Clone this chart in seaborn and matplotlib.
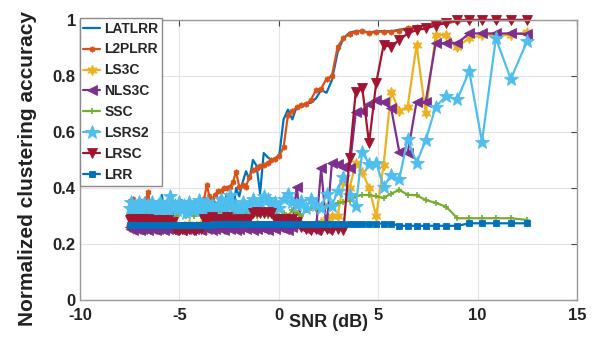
import matplotlib
matplotlib.use("Agg")
import matplotlib.pyplot as plt
import seaborn as sns

# SNR values (dB)
snr = [-7.50, -7.41, -7.32, -7.24, -7.15, -7.05, -6.96, -6.87, -6.78, -6.68,
       -6.58, -6.49, -6.39, -6.29, -6.19, -6.09, -5.99, -5.88, -5.78, -5.67,
       -5.56, -5.45, -5.34, -5.23, -5.12, -5.00, -4.88, -4.77, -4.65, -4.53,
       -4.40, -4.28, -4.15, -4.02, -3.89, -3.76, -3.62, -3.49, -3.35, -3.21,
       -3.06, -2.92, -2.77, -2.62, -2.46, -2.31, -2.15, -1.99, -1.82, -1.65,
       -1.48, -1.30, -1.12, -0.94, -0.76, -0.56, -0.37, -0.17, 0.03, 0.24,
       0.46, 0.68, 0.90, 1.14, 1.37, 1.62, 1.87, 2.13, 2.40, 2.67,
       2.96, 3.25, 3.56, 3.87, 4.20, 4.54, 4.90, 5.27, 5.65, 6.06,
       6.48, 6.93, 7.39, 7.89, 8.42, 8.98, 9.58, 10.22, 10.92, 11.67,
       12.50]

latlrr = [0.31, 0.33, 0.30, 0.32, 0.31, 0.33, 0.30, 0.32, 0.31, 0.30,
          0.32, 0.31, 0.33, 0.30, 0.32, 0.33, 0.32, 0.375, 0.32, 0.30,
          0.33, 0.31, 0.32, 0.30, 0.31, 0.33, 0.357, 0.31, 0.32, 0.30,
          0.31, 0.33, 0.32, 0.34, 0.31, 0.33, 0.32, 0.34, 0.31, 0.35,
          0.34, 0.37, 0.33, 0.38, 0.36, 0.31, 0.40, 0.37, 0.42, 0.46,
          0.43, 0.50, 0.48, 0.38, 0.525, 0.51, 0.50, 0.505, 0.52, 0.645,
          0.68, 0.645, 0.69, 0.69, 0.70, 0.705, 0.72, 0.75, 0.74, 0.785,
          0.885, 0.935, 0.955, 0.96, 0.96, 0.955, 0.96, 0.96, 0.96, 0.965,
          0.97, 0.975, 0.98, 0.985, 0.99, 0.995, 1.0, 1.0, 1.0, 1.0,
          1.0]

l2plrr = [0.355, 0.34, 0.36, 0.345, 0.35, 0.335, 0.355, 0.345, 0.34, 0.36,
          0.385, 0.35, 0.335, 0.345, 0.33, 0.35, 0.34, 0.33, 0.345, 0.335,
          0.34, 0.33, 0.345, 0.335, 0.34, 0.33, 0.345, 0.335, 0.34, 0.35,
          0.335, 0.345, 0.33, 0.34, 0.35, 0.36, 0.41, 0.37, 0.36, 0.375,
          0.39, 0.39, 0.40, 0.40, 0.405, 0.42, 0.458, 0.405, 0.41, 0.405,
          0.44, 0.464, 0.47, 0.48, 0.482, 0.49, 0.50, 0.505, 0.515, 0.545,
          0.66, 0.675, 0.688, 0.695, 0.70, 0.715, 0.75, 0.755, 0.79, 0.80,
          0.905, 0.935, 0.95, 0.958, 0.962, 0.952, 0.958, 0.958, 0.958, 0.962,
          0.97, 0.975, 0.98, 0.985, 0.99, 0.995, 1.0, 1.0, 1.0, 1.0,
          1.0]

ls3c = [0.26, 0.27, 0.255, 0.265, 0.26, 0.27, 0.255, 0.26, 0.265, 0.26,
        0.27, 0.255, 0.26, 0.265, 0.26, 0.255, 0.27, 0.26, 0.265, 0.26,
        0.255, 0.26, 0.27, 0.26, 0.265, 0.26, 0.255, 0.265, 0.26, 0.27,
        0.26, 0.255, 0.265, 0.26, 0.27, 0.26, 0.255, 0.265, 0.26, 0.26,
        0.265, 0.26, 0.255, 0.27, 0.26, 0.265, 0.26, 0.27, 0.255, 0.26,
        0.265, 0.26, 0.27, 0.26, 0.265, 0.255, 0.26, 0.27, 0.265, 0.26,
        0.27, 0.26, 0.265, 0.27, 0.26, 0.265, 0.27, 0.28, 0.29, 0.30,
        0.30, 0.42, 0.40, 0.488, 0.458, 0.40, 0.30, 0.482, 0.744, 0.676,
        0.69, 0.91, 0.667, 0.946, 0.946, 0.905, 0.935, 0.946, 0.946, 0.946,
        0.958]

nls3c = [0.26, 0.255, 0.25, 0.26, 0.255, 0.26, 0.25, 0.255, 0.26, 0.255,
         0.25, 0.26, 0.255, 0.26, 0.25, 0.255, 0.26, 0.255, 0.25, 0.26,
         0.255, 0.26, 0.25, 0.255, 0.26, 0.255, 0.25, 0.26, 0.255, 0.26,
         0.25, 0.255, 0.26, 0.255, 0.25, 0.26, 0.255, 0.26, 0.25, 0.255,
         0.26, 0.255, 0.25, 0.26, 0.255, 0.26, 0.25, 0.255, 0.26, 0.255,
         0.26, 0.25, 0.255, 0.26, 0.255, 0.25, 0.26, 0.255, 0.26, 0.255,
         0.25, 0.26, 0.405, 0.26, 0.255, 0.26, 0.25, 0.47, 0.255, 0.49,
         0.485, 0.475, 0.47, 0.67, 0.675, 0.70, 0.714, 0.708, 0.685, 0.53,
         0.524, 0.708, 0.708, 0.917, 0.917, 0.917, 0.952, 0.952, 0.952, 0.952,
         0.95]

ssc = [0.30, 0.31, 0.29, 0.32, 0.30, 0.31, 0.30, 0.32, 0.31, 0.29,
       0.31, 0.30, 0.32, 0.30, 0.31, 0.33, 0.30, 0.31, 0.32, 0.30,
       0.31, 0.30, 0.32, 0.31, 0.30, 0.33, 0.34, 0.31, 0.30, 0.32,
       0.31, 0.30, 0.32, 0.31, 0.30, 0.32, 0.31, 0.30, 0.33, 0.31,
       0.30, 0.32, 0.31, 0.33, 0.30, 0.32, 0.31, 0.30, 0.32, 0.31,
       0.33, 0.31, 0.30, 0.32, 0.31, 0.30, 0.32, 0.31, 0.30, 0.31,
       0.30, 0.32, 0.31, 0.30, 0.32, 0.33, 0.325, 0.33, 0.335, 0.34,
       0.345, 0.35, 0.355, 0.37, 0.375, 0.375, 0.37, 0.365, 0.38, 0.393,
       0.376, 0.374, 0.357, 0.347, 0.333, 0.292, 0.292, 0.292, 0.292, 0.292,
       0.286]

lsrs2 = [0.33, 0.35, 0.32, 0.34, 0.31, 0.35, 0.33, 0.32, 0.345, 0.33,
         0.34, 0.32, 0.35, 0.33, 0.31, 0.34, 0.35, 0.32, 0.33, 0.34,
         0.32, 0.37, 0.33, 0.34, 0.32, 0.35, 0.33, 0.34, 0.31, 0.35,
         0.33, 0.32, 0.34, 0.357, 0.32, 0.33, 0.35, 0.31, 0.34, 0.33,
         0.34, 0.36, 0.32, 0.35, 0.375, 0.33, 0.34, 0.32, 0.35, 0.33,
         0.34, 0.36, 0.33, 0.35, 0.37, 0.36, 0.34, 0.35, 0.33, 0.36,
         0.38, 0.35, 0.34, 0.355, 0.33, 0.36, 0.34, 0.33, 0.38, 0.335,
         0.39, 0.44, 0.375, 0.335, 0.53, 0.485, 0.49, 0.405, 0.446, 0.432,
         0.575, 0.49, 0.571, 0.69, 0.728, 0.717, 0.818, 0.565, 0.935, 0.789,
         0.926]

lrsc = [0.285, 0.29, 0.28, 0.285, 0.29, 0.28, 0.285, 0.29, 0.28, 0.285,
        0.29, 0.285, 0.28, 0.28, 0.285, 0.275, 0.28, 0.285, 0.275, 0.28,
        0.285, 0.275, 0.28, 0.255, 0.26, 0.25, 0.255, 0.26, 0.25, 0.255,
        0.26, 0.25, 0.255, 0.26, 0.255, 0.29, 0.285, 0.29, 0.295, 0.285,
        0.29, 0.285, 0.29, 0.295, 0.285, 0.29, 0.285, 0.28, 0.29, 0.285,
        0.29, 0.31, 0.315, 0.31, 0.31, 0.315, 0.31, 0.29, 0.285, 0.29,
        0.285, 0.29, 0.28, 0.26, 0.255, 0.25, 0.255, 0.25, 0.255, 0.25,
        0.255, 0.25, 0.506, 0.744, 0.756, 0.56, 0.776, 0.91, 0.905, 0.929,
        0.952, 0.964, 0.97, 0.98, 0.99, 1.0, 1.0, 1.0, 1.0, 1.0,
        1.0]

lrr = [0.268] * 39 + [0.273] * 40 + [0.265] * 7 + [0.274] * 5

labels = ["LATLRR", "L2PLRR", "LS3C", "NLS3C", "SSC", "LSRS2", "LRSC", "LRR"]
colors = ["#0072BD", "#D95319", "#EDB120", "#7E2F8E", "#77AC30", "#4DBEEE", "#A2142F", "#0072BD"]
markers = [None, (6, 2, 0), (6, 1, 0), "<", "+", "*", "v", "s"]
msizes = [0, 4, 7.5, 6.5, 5, 10, 6.5, 5]
values = [latlrr, l2plrr, ls3c, nls3c, ssc, lsrs2, lrsc, lrr]

sns.set_theme(style="white")
plt.rcParams['font.family'] = ['Liberation Sans', 'DejaVu Sans']
plt.rcParams['font.weight'] = 'bold'

fig = plt.figure(figsize=(5.96, 3.41), dpi=100)
ax = fig.add_axes([80 / 596, 1 - 300 / 341, 497 / 596, 280 / 341])

for name, vals, col, mk, ms in zip(labels, values, colors, markers, msizes):
    kw = dict(color=col, linewidth=1.6, label=name, sort=False, estimator=None,
              clip_on=False)
    if mk is not None:
        kw.update(marker=mk, markersize=ms, markeredgecolor=col,
                  markerfacecolor=col, markeredgewidth=1.2 if mk in ("+", (6, 2, 0)) else 0.6)
    sns.lineplot(x=snr, y=vals, ax=ax, **kw)

ax.set_xlim(-10, 15)
ax.set_ylim(0, 1)
ax.set_xticks([-10, -5, 0, 5, 10, 15])
ax.set_xticklabels(["-10", "-5", "0", "5", "10", "15"])
ax.set_yticks([0, 0.2, 0.4, 0.6, 0.8, 1.0])
ax.set_yticklabels(["0", "0.2", "0.4", "0.6", "0.8", "1"])
ax.tick_params(direction="in", top=True, right=True, length=4, width=0.8,
               color="#444444", labelsize=12, labelcolor="#222222")
ax.tick_params(axis="x", pad=6)
ax.tick_params(axis="y", pad=3)
for lab in ax.get_xticklabels() + ax.get_yticklabels():
    lab.set_fontweight("bold")
ax.grid(True, color="#e3e3e3", linewidth=0.8)
for sp in ax.spines.values():
    sp.set_color("#9a9a9a")
    sp.set_linewidth(1.0)

ax.set_xlabel("SNR (dB)", fontsize=13, fontweight="bold", color="#222222")
ax.xaxis.set_label_coords(0.499, -0.05)
ax.set_ylabel("Normalized clustering accuracy", fontsize=15, fontweight="bold", color="#222222")
ax.yaxis.set_label_coords(-0.087, 0.468)

leg = ax.legend(loc="upper left", bbox_to_anchor=(0, 1.007), borderaxespad=0,
                prop={"weight": "bold", "size": 10}, handlelength=1.2,
                handletextpad=0.3, labelspacing=0.5, borderpad=0.25,
                frameon=True, fancybox=False, framealpha=1)
leg.get_frame().set_edgecolor("#8a8a8a")
leg.get_frame().set_linewidth(1.0)
leg.set_zorder(5)

fig.savefig("out.png", dpi=100)
